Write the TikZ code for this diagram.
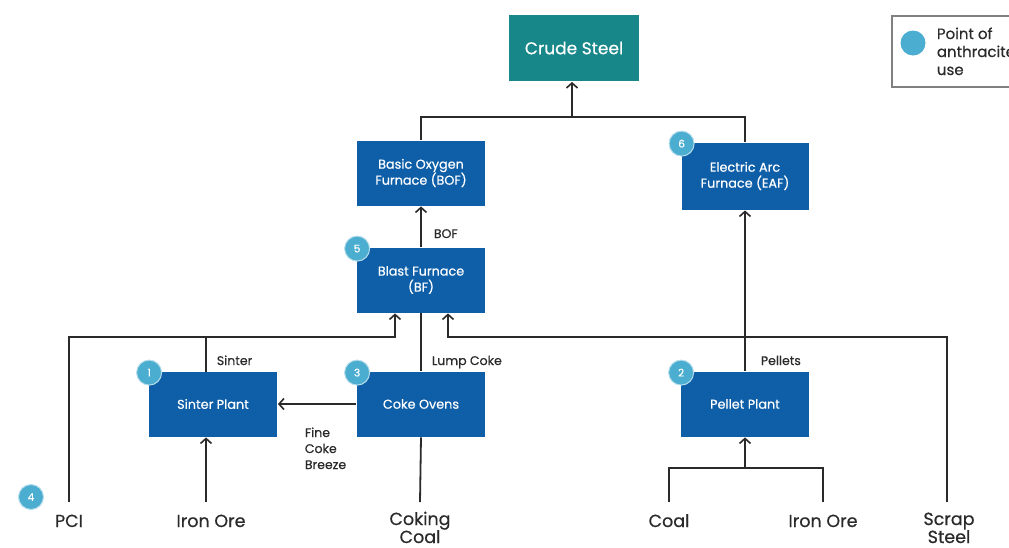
\documentclass[tikz,border=0pt]{standalone}
\usepackage{fontspec}
\setmainfont{Poppins}[FakeBold=0.5]
\usetikzlibrary{arrows.meta}
\definecolor{boxblue}{HTML}{0F5FA8}
\definecolor{steelteal}{HTML}{17878A}
\definecolor{badgeblue}{HTML}{4BADCF}
\definecolor{inkgray}{HTML}{2A2A2A}

\tikzset{
  plant/.style={fill=boxblue, text=white, minimum width=128, minimum height=65, align=center, inner sep=0, font=\fontsize{12.8}{16}\selectfont},
  badge/.style={circle, fill=badgeblue, draw=badgeblue!40, line width=1, text=white, minimum size=25, inner sep=0, font=\fontsize{10.5}{10}\selectfont},
  feed/.style={text=inkgray, align=center, inner sep=0, anchor=base, font=\fontsize{17.5}{18}\selectfont},
  tag/.style={text=inkgray, align=left, inner sep=0, anchor=base west, font=\fontsize{12.5}{16}\selectfont},
  flow/.style={-{Straight Barb[length=5,width=11,line width=1.6]}},
}

\begin{document}
\begin{tikzpicture}[x=1pt, y=-1pt, line width=1.8, draw=inkgray]
\useasboundingbox (0,0) rectangle (1009,547);

% boxes
\node[plant, fill=steelteal, minimum width=130, minimum height=66, font=\fontsize{17}{18}\selectfont] (crude) at (574,48) {Crude Steel};
\node[plant] (bof) at (421,173) {Basic Oxygen\\Furnace (BOF)};
\node[plant, minimum width=127, minimum height=67] (eaf) at (745,176) {Electric Arc\\Furnace (EAF)};
\node[plant] (bf) at (421,280) {Blast Furnace\\(BF)};
\node[plant] (sinter) at (213,404) {Sinter Plant};
\node[plant] (coke) at (421,404) {Coke Ovens};
\node[plant] (pellet) at (745,404) {Pellet Plant};

% anthracite points
\node[badge] (b1) at ([xshift=1,yshift=-2]sinter.north west) {1};
\node[badge] (b2) at ([xshift=1,yshift=-2]pellet.north west) {2};
\node[badge] (b3) at ([xshift=1,yshift=-2]coke.north west) {3};
\node[badge] (b4) at (31,497) {4};
\node[badge] (b5) at ([xshift=1,yshift=-2]bf.north west) {5};
\node[badge] (b6) at ([xshift=1,yshift=-2]eaf.north west) {6};

% raw materials (two-line labels sit on their last baseline)
\node[feed] (pci) at (69,527) {PCI};
\node[feed] (ironore) at (211,527) {Iron Ore};
\node[feed] (cokingcoal) at (420,543) {Coking\\Coal};
\node[feed] (coal) at (669,527) {Coal};
\node[feed] (ironore2) at (823,527) {Iron Ore};
\node[feed] (scrap) at (949,543) {Scrap\\Steel};

% junctions
\coordinate (top) at (572,117);
\coordinate (leftbus) at (395,337);
\coordinate (rightbus) at (448,337);
\coordinate (pelletbus) at (745,468);

% steel making
\draw[flow] (top) -- (top |- crude.south);
\draw (bof.north) |- (top) -| (eaf.north);
\draw[flow] (bf.north) -- (bof.south);
\node[tag] (boftag) at (433,238) {BOF};
\draw[flow] (pellet.north) -- (eaf.south);
\node[tag] (pellettag) at (760,365) {Pellets};

% into blast furnace
\draw[flow] ([yshift=25]pci.base) |- (leftbus) -- (leftbus |- bf.south);
\draw (206,372) -- (206,337);
\node[tag] (sintertag) at (216,365) {Sinter};
\draw (coke.north) -- (bf.south);
\node[tag] (coketag) at (431,365) {Lump Coke};
\draw[flow] ([yshift=41,xshift=-2]scrap.base) |- (rightbus) -- (rightbus |- bf.south);

% sinter plant and coke ovens
\draw[flow] (coke.west) -- (sinter.east);
\node[tag] (breezetag) at (304,469) {Fine\\Coke\\Breeze};
\draw[flow] ([yshift=25,xshift=-5]ironore.base) -- ([xshift=-7]sinter.south);
\draw ([yshift=41]cokingcoal.base) -- (coke.south);

% pellet plant
\draw ([yshift=25]coal.base) |- (pelletbus) -| ([yshift=25]ironore2.base);
\draw[flow] (pelletbus) -- (pellet.south);

% legend
\draw[line width=1.4, draw=gray] (892,16) rectangle (1030,87);
\node[circle, fill=badgeblue, minimum size=25, inner sep=0] (legdot) at (913,43) {};
\node[tag, font=\fontsize{15}{18}\selectfont] (legtext) at (936,75) {Point of\\anthracite\\use};
\end{tikzpicture}
\end{document}
